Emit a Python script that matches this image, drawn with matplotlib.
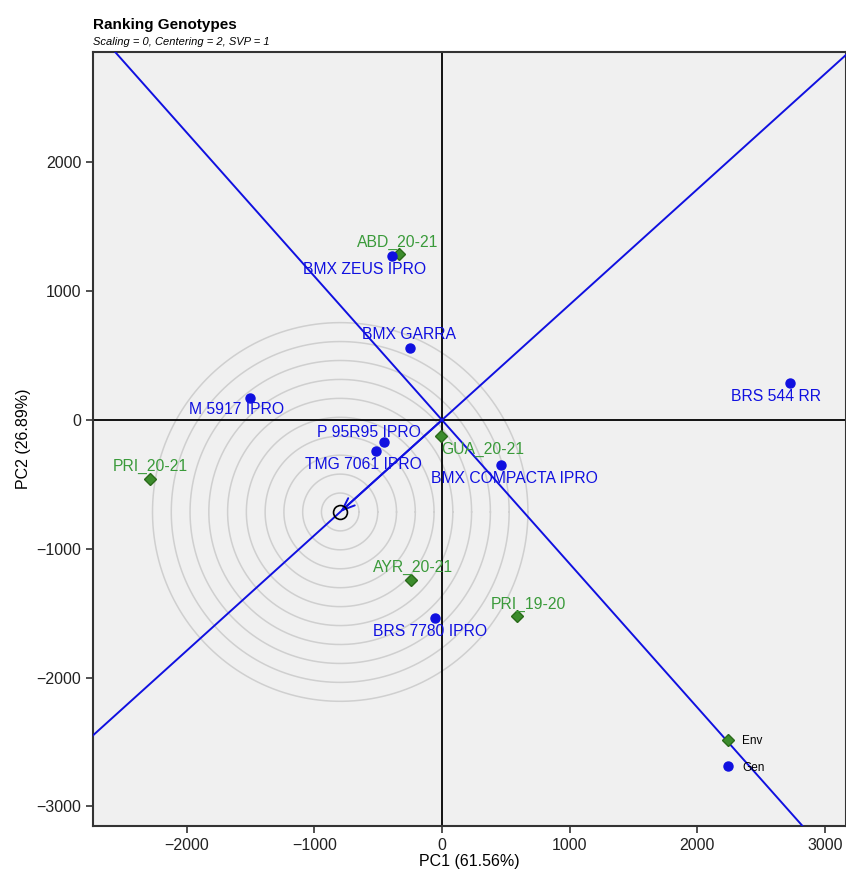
import numpy as np
import matplotlib
matplotlib.use("Agg")
import matplotlib.pyplot as plt

plt.rcParams['font.family'] = ['Liberation Sans', 'DejaVu Sans']

# genotypes (blue points)
gen_names = ["BMX ZEUS IPRO", "BMX GARRA", "M 5917 IPRO", "BRS 544 RR", "P 95R95 IPRO",
             "TMG 7061 IPRO", "BMX COMPACTA IPRO", "BRS 7780 IPRO"]
gen_pc1 = [-392, -251, -1504, 2725, -454, -517, 462, -55]
gen_pc2 = [1273, 559, 171, 287, -171, -241, -349, -1537]

# environments (green diamonds)
env_names = ["ABD_20-21", "GUA_20-21", "PRI_20-21", "AYR_20-21", "PRI_19-20"]
env_pc1 = [-337, -5, -2287, -243, 587]
env_pc2 = [1289, -124, -458, -1242, -1522]

# average environment coordinate
avg_env = (-797, -714)
ring_step = 147
n_rings = 10

# label offsets (pixels) relative to each point
gen_off = [(-27, -13), (-1, 13), (-13, -12), (-14, -13), (-15, 10), (-13, -13), (13, -14), (-5, -14)]
env_off = [(-1, 12), (41, -13), (0, 13), (2, 13), (11, 12)]

blue = "#1010E0"
green_pt = "#3C8C2C"
green_txt = "#3A9A3A"

fig = plt.figure(figsize=(8.46, 8.72), dpi=100)
ax = fig.add_axes([93 / 846, 46 / 872, 753 / 846, 774 / 872])
ax.set_facecolor("#F0F0F0")

xlim = (-2733, 3164)
ylim = (-3152, 2857)
ax.set_xlim(*xlim)
ax.set_ylim(*ylim)

# concentric rings around the average environment
t = np.linspace(0, 2 * np.pi, 400)
for k in range(1, n_rings + 1):
    r = k * ring_step
    ax.plot(avg_env[0] + r * np.cos(t), avg_env[1] + r * np.sin(t),
            color="#CFCFCF", lw=1.1, zorder=1)

ax.axhline(0, color="black", lw=1.3, zorder=2)
ax.axvline(0, color="black", lw=1.3, zorder=2)

# average environment axis and its perpendicular
slope = avg_env[1] / avg_env[0]
xs = np.array([xlim[0] - 500, xlim[1] + 500])
ax.plot(xs, slope * xs, color=blue, lw=1.4, zorder=3)
ax.plot(xs, -xs / slope, color=blue, lw=1.4, zorder=3)

ax.annotate("", xy=avg_env, xytext=(0, 0),
            arrowprops=dict(arrowstyle="->,head_length=0.9,head_width=0.35", color=blue, lw=1.4,
                            shrinkA=0, shrinkB=0), zorder=4)
ax.plot(*avg_env, marker="o", ms=10, mfc="none", mec="black", mew=1.2, zorder=5)

ax.plot(env_pc1, env_pc2, "D", ms=6, color=green_pt, mec="#2A6A1A", ls="none", zorder=6, label="Env")
ax.plot(gen_pc1, gen_pc2, "o", ms=6.5, color=blue, ls="none", zorder=6, label="Gen")

for name, x, y, off in zip(gen_names, gen_pc1, gen_pc2, gen_off):
    ax.annotate(name, (x, y), xytext=off, textcoords="offset pixels", ha="center", va="center",
                color=blue, fontsize=11.3, zorder=7)
for name, x, y, off in zip(env_names, env_pc1, env_pc2, env_off):
    ax.annotate(name, (x, y), xytext=off, textcoords="offset pixels", ha="center", va="center",
                color=green_txt, fontsize=11.3, zorder=7)

ax.legend(loc="upper left", bbox_to_anchor=(0.829, 0.124), frameon=False, fontsize=8.5,
          handletextpad=0.7, labelspacing=1.25, handlelength=1.0, borderaxespad=0)

ax.set_xticks([-2000, -1000, 0, 1000, 2000, 3000])
ax.set_yticks([-3000, -2000, -1000, 0, 1000, 2000])
ax.set_xticklabels(["\u22122000", "\u22121000", "0", "1000", "2000", "3000"])
ax.set_yticklabels(["\u22123000", "\u22122000", "\u22121000", "0", "1000", "2000"])
ax.tick_params(labelsize=11.5, length=5, width=1.1, colors="#222222", labelcolor="#222222")
for s in ax.spines.values():
    s.set_linewidth(1.5)
    s.set_color("#333333")

ax.set_xlabel("PC1 (61.56%)", fontsize=11.5, labelpad=1)
ax.set_ylabel("PC2 (26.89%)", fontsize=11.5, labelpad=4)

fig.text(93 / 846, 1 - 25 / 872, "Ranking Genotypes", fontsize=11, fontweight="bold", va="center")
fig.text(93 / 846, 1 - 42 / 872, "Scaling = 0, Centering = 2, SVP = 1", fontsize=8,
         style="italic", va="center")

fig.savefig("out.png", dpi=100)
